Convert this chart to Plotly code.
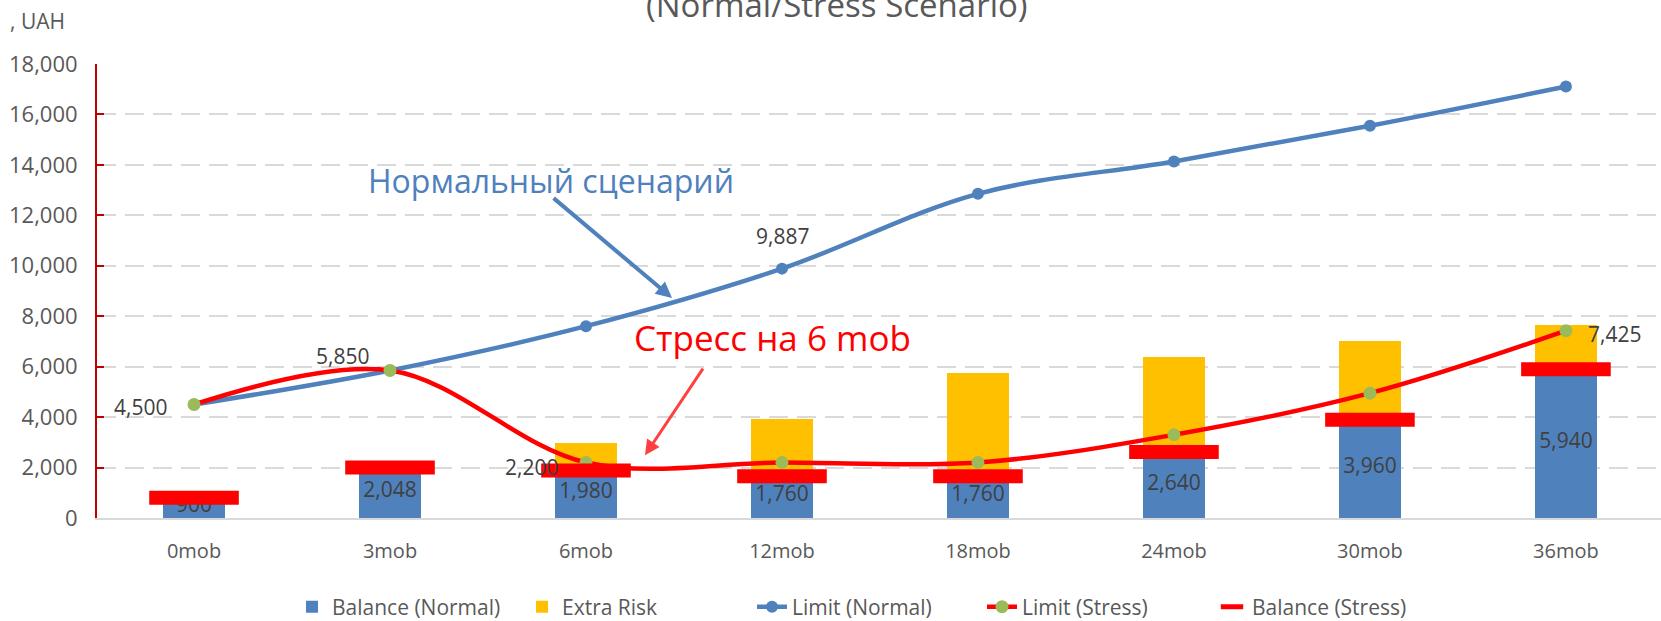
import plotly.graph_objects as go

categories = ["0mob", "3mob", "6mob", "12mob", "18mob", "24mob", "30mob", "36mob"]
balance_normal = [900, 2048, 1980, 1760, 1760, 2640, 3960, 5940]
extra_risk = [0, 0, 1010, 2170, 3970, 3750, 3070, 1730]
limit_normal = [4500, 5850, 7605, 9887, 12853, 14138, 15552, 17107]
limit_stress = [4500, 5850, 2200, 2200, 2200, 3300, 4950, 7425]
balance_stress = [800, 2000, 1885, 1660, 1660, 2620, 3900, 5900]
y_ticks = list(range(0, 18001, 2000))

BLUE = "#4F81BD"
YELLOW = "#FFC000"
RED = "#FF0000"
GREEN = "#9BBB59"
GREY_TXT = "#595959"
DARK_TXT = "#404040"
FONT = "Open Sans"

W, H = 1661, 621
PLOT_L, PLOT_T, PLOT_B = 97, 64, 518     # pixel positions of plot area
PLOT_W = W - PLOT_L
PLOT_H = PLOT_B - PLOT_T

fig = go.Figure()
fig.add_trace(go.Bar(x=categories, y=balance_normal, name="Balance (Normal)",
                     marker=dict(color=BLUE, line=dict(width=0)), width=0.313))
fig.add_trace(go.Bar(x=categories, y=extra_risk, name="Extra Risk",
                     marker=dict(color=YELLOW, line=dict(width=0)), width=0.313))
fig.add_trace(go.Scatter(x=categories, y=[v / 2 for v in balance_normal], mode="text",
                         text=[f"{v:,}" for v in balance_normal], showlegend=False,
                         textposition="middle center",
                         textfont=dict(size=21, color=DARK_TXT, family=FONT)))
fig.add_trace(go.Scatter(x=categories, y=limit_normal, name="Limit (Normal)",
                         mode="lines+markers", line=dict(color=BLUE, width=4.5, shape="spline"),
                         marker=dict(color=BLUE, size=12)))
fig.add_trace(go.Scatter(x=categories, y=limit_stress, name="Limit (Stress)",
                         mode="lines+markers", line=dict(color=RED, width=4.5, shape="spline"),
                         marker=dict(color=GREEN, size=13)))
fig.add_trace(go.Scatter(x=categories, y=balance_stress, name="Balance (Stress)",
                         mode="markers",
                         marker=dict(symbol="line-ew", size=64, color=RED,
                                     line=dict(color=RED, width=14))))

ann = []


def lab(i, val, xanchor, xshift, yshift):
    ann.append(dict(x=categories[i], y=val, xref="x", yref="y", text=f"{val:,}",
                    showarrow=False, xanchor=xanchor, yanchor="middle",
                    xshift=xshift, yshift=yshift,
                    font=dict(size=21, color=DARK_TXT, family=FONT)))


lab(0, limit_normal[0], "right", -25, -2)
lab(1, limit_normal[1], "right", -19, 14)
lab(3, limit_normal[3], "center", 1, 33)
lab(2, limit_stress[2], "right", -26, -4)
lab(7, limit_stress[7], "left", 20, -3)

# callouts
ann.append(dict(x=1.82, y=13375, xref="x", yref="y", text="Нормальный сценарий",
                showarrow=False, xanchor="center", yanchor="middle",
                font=dict(size=32, color=BLUE, family=FONT)))
ann.append(dict(x=2.439, y=8722, ax=1.827, ay=12732, xref="x", yref="y",
                axref="x", ayref="y", text="", showarrow=True, arrowhead=2,
                arrowsize=0.8, arrowwidth=4, arrowcolor=BLUE, standoff=0))
ann.append(dict(x=2.954, y=7174, xref="x", yref="y", text="Стресс на 6 mob",
                showarrow=False, xanchor="center", yanchor="middle",
                font=dict(size=35, color=RED, family=FONT)))
ann.append(dict(x=2.301, y=2489, ax=2.602, ay=5983, xref="x", yref="y",
                axref="x", ayref="y", text="", showarrow=True, arrowhead=2,
                arrowsize=1, arrowwidth=3, arrowcolor="#FF4040", standoff=0))
# title (partially cut at top of the chart) and unit
ann.append(dict(x=(837 - PLOT_L) / PLOT_W, y=1 + (PLOT_T - 4) / PLOT_H,
                xref="paper", yref="paper",
                text="(Normal/Stress Scenario)", showarrow=False,
                xanchor="center", yanchor="middle",
                font=dict(size=33, color=GREY_TXT, family=FONT)))
ann.append(dict(x=(67 - PLOT_L) / PLOT_W, y=1 + (PLOT_T - 21) / PLOT_H,
                xref="paper", yref="paper",
                text=", UAH", showarrow=False, xanchor="right", yanchor="middle",
                font=dict(size=21, color=GREY_TXT, family=FONT)))

fig.update_layout(
    width=W, height=H,
    margin=dict(l=PLOT_L, r=0, t=PLOT_T, b=H - PLOT_B, autoexpand=False),
    plot_bgcolor="white", paper_bgcolor="white",
    font=dict(family=FONT, color=GREY_TXT),
    barmode="stack",
    showlegend=True,
    legend=dict(orientation="h", x=(292 - PLOT_L) / PLOT_W, xanchor="left",
                y=-(607 - PLOT_B) / PLOT_H, yanchor="middle", entrywidth=185,
                traceorder="normal", font=dict(size=21, color=GREY_TXT, family=FONT),
                bgcolor="rgba(0,0,0,0)"),
    annotations=ann,
    xaxis=dict(type="category", categoryarray=categories, range=[-0.495, 7.485],
               showline=True, linecolor="#D9D9D9", linewidth=2, showgrid=False,
               ticks="", tickfont=dict(size=20, color=GREY_TXT, family=FONT),
               ticklabelstandoff=14, automargin=False),
    yaxis=dict(range=[0, 18000], tickvals=y_ticks, tickformat=",d",
               showline=True, linecolor="#C00000", linewidth=2,
               ticks="inside", ticklen=7, tickcolor="#C00000", tickwidth=2,
               showgrid=True, gridcolor="#D9D9D9", gridwidth=2, griddash="19px,9px",
               zeroline=False, tickfont=dict(size=22, color=GREY_TXT, family=FONT),
               ticklabelstandoff=13, automargin=False),
)

# remove the default 8px page margin so the chart fills the window from its corner
fig.write_html("out.html", config={"displayModeBar": False},
               post_script="document.body.style.margin='0';document.body.style.overflow='hidden';")
